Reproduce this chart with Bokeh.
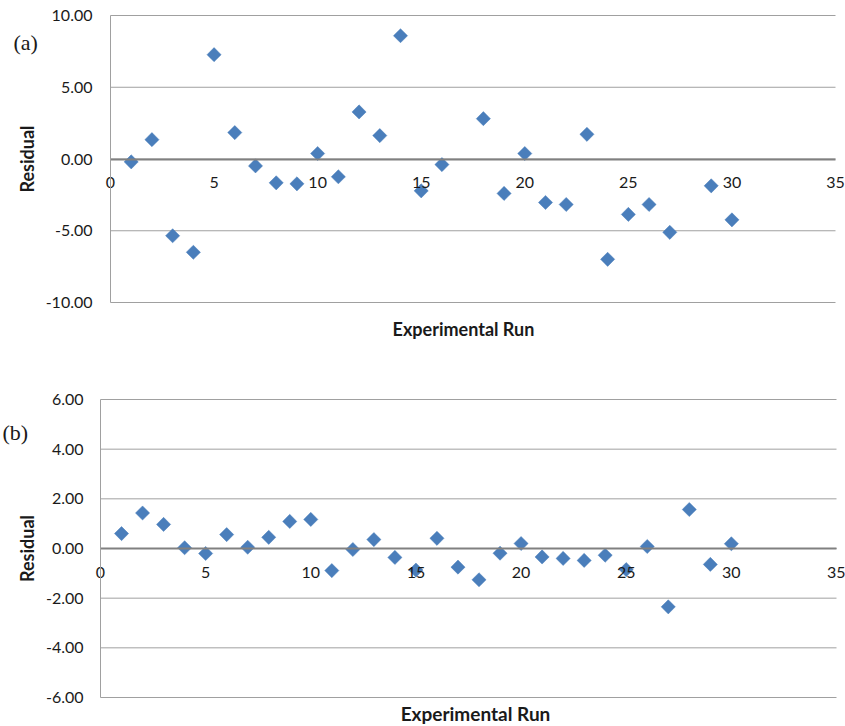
import numpy as np
from bokeh.plotting import figure
from bokeh.layouts import column
from bokeh.models import Range1d, FixedTicker, PrintfTickFormatter, Label, LinearAxis
from bokeh.embed import file_html
from bokeh.resources import INLINE

# ---- data ----
runs_a = [1, 2, 3, 4, 5, 6, 7, 8, 9, 10, 11, 12, 13, 14, 15, 16,
          18, 19, 20, 21, 22, 23, 24, 25, 26, 27, 29, 30]
res_a = [-0.20, 1.35, -5.35, -6.50, 7.27, 1.84, -0.48, -1.66, -1.73, 0.38,
         -1.24, 3.28, 1.63, 8.59, -2.22, -0.39,
         2.81, -2.40, 0.38, -3.03, -3.17, 1.72, -6.99, -3.86, -3.17, -5.11,
         -1.87, -4.24]

runs_b = list(range(1, 31))
res_b = [0.60, 1.43, 0.97, 0.03, -0.20, 0.56, 0.05, 0.45, 1.09, 1.17,
         -0.89, -0.04, 0.36, -0.36, -0.87, 0.41, -0.75, -1.26, -0.19, 0.20,
         -0.34, -0.40, -0.48, -0.27, -0.85, 0.08, -2.35, 1.57, -0.64, 0.19]

x_ticks = [0, 5, 10, 15, 20, 25, 30, 35]
y_ticks_a = [-10, -5, 0, 5, 10]
y_ticks_b = [-6, -4, -2, 0, 2, 4, 6]

FONT = "Lato"
BLUE = "#4A7EBB"
GRID = "#a0a0a0"
ZERO = "#808080"
TXT = "#1a1a1a"
W = 845


def make(runs, res, yticks, H, px_x0, px_x1, px_ytop, px_ybot,
         ylab_standoff, tag, tag_x, tag_y, title_x, title_y, title_size):
    xmin, xmax = x_ticks[0], x_ticks[-1]
    ymin, ymax = yticks[0], yticks[-1]
    ux = (xmax - xmin) / (px_x1 - px_x0)
    uy = (ymax - ymin) / (px_ybot - px_ytop)
    xr = Range1d(xmin - px_x0 * ux, xmax + (W - px_x1) * ux)
    yr = Range1d(ymin - (H - px_ybot) * uy, ymax + px_ytop * uy)

    p = figure(width=W, height=H, output_backend="svg", toolbar_location=None,
               x_range=xr, y_range=yr, x_axis_location=None, y_axis_location=None,
               min_border=0)
    p.outline_line_color = None
    p.background_fill_color = "white"
    p.border_fill_color = "white"
    p.xgrid.grid_line_color = None
    p.ygrid.grid_line_color = None

    # horizontal gridlines between first and last x tick
    p.segment(x0=[xmin] * len(yticks), x1=[xmax] * len(yticks), y0=yticks, y1=yticks,
              line_color=GRID, line_width=1)

    ya = LinearAxis(fixed_location=xmin, bounds=(ymin, ymax))
    ya.ticker = FixedTicker(ticks=yticks)
    ya.formatter = PrintfTickFormatter(format="%.2f")
    ya.axis_line_color = GRID
    ya.axis_line_width = 1
    ya.major_tick_line_color = None
    ya.minor_tick_line_color = None
    ya.major_tick_out = 0
    ya.major_label_standoff = px_x0 - (92 if px_x0 > 105 else 83)
    ya.major_label_text_font = FONT
    ya.major_label_text_font_size = "16px"
    ya.major_label_text_color = TXT
    ya.axis_label = "Residual"
    ya.axis_label_text_font = FONT
    ya.axis_label_text_font_size = "18px"
    ya.axis_label_text_font_style = "bold"
    ya.axis_label_text_color = TXT
    ya.axis_label_standoff = ylab_standoff
    p.add_layout(ya, "left")

    xa = LinearAxis(fixed_location=0, bounds=(xmin, xmax))
    xa.ticker = FixedTicker(ticks=x_ticks)
    xa.axis_line_color = ZERO
    xa.axis_line_width = 2
    xa.major_tick_line_color = None
    xa.minor_tick_line_color = None
    xa.major_tick_out = 0
    xa.major_label_standoff = 18
    xa.major_label_text_font = FONT
    xa.major_label_text_font_size = "16px"
    xa.major_label_text_color = TXT
    p.add_layout(xa, "below")

    p.scatter(runs, res, marker="square", angle=np.pi / 4, size=10,
              fill_color=BLUE, line_color=BLUE, line_width=0.5)

    p.add_layout(Label(x=title_x, y=title_y, x_units="screen", y_units="screen",
                       text="Experimental Run", text_font=FONT,
                       text_font_size=title_size, text_font_style="bold",
                       text_color=TXT, text_align="center", text_baseline="middle"))

    p.add_layout(Label(x=tag_x, y=tag_y, x_units="screen", y_units="screen", text=tag,
                       text_font="Liberation Serif", text_font_size="22px",
                       text_color=TXT, text_baseline="middle", text_align="left"))
    return p


top = make(runs_a, res_a, y_ticks_a, 342, 110, 835, 15, 302, 5,
           "(a)", 13, 300, 463, 14, "18px")
bot = make(runs_b, res_b, y_ticks_b, 384, 100, 836, 57, 355, 5,
           "(b)", 2, 294, 475, 13, "19px")

layout = column(top, bot, spacing=0)
open("out.html", "w").write(file_html(layout, INLINE))
